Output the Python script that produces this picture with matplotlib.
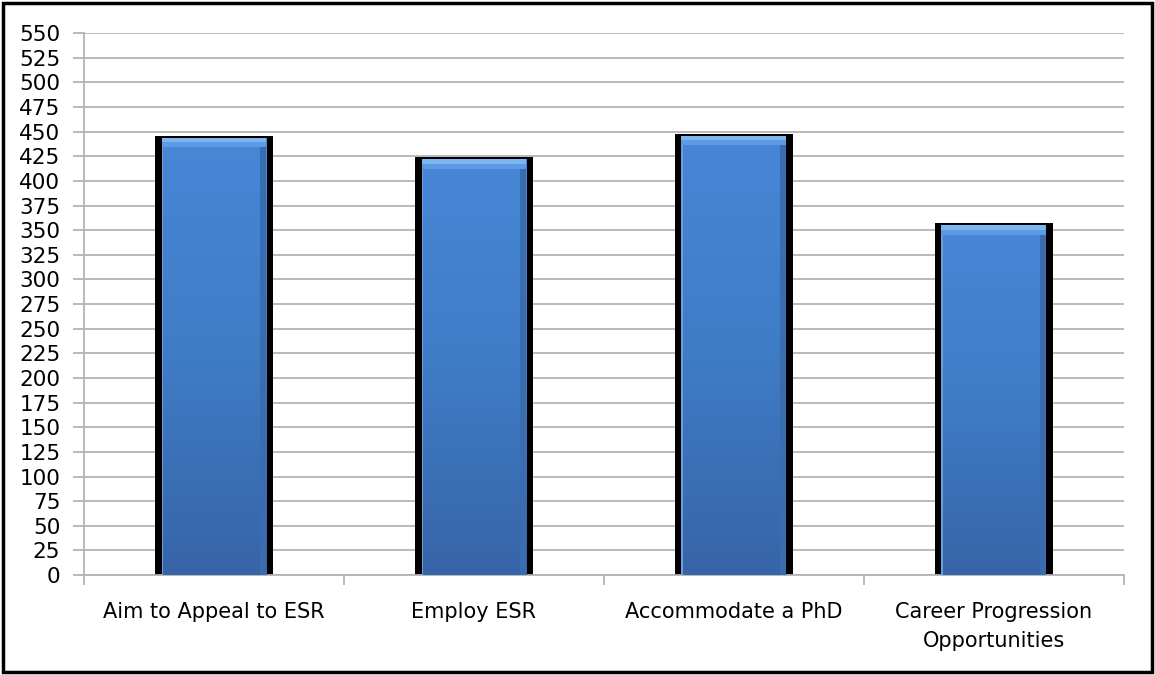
import matplotlib.pyplot as plt
import numpy as np
from matplotlib.patches import Rectangle
from matplotlib.colors import LinearSegmentedColormap

# data
categories = ['Aim to Appeal to ESR', 'Employ ESR', 'Accommodate a PhD',
              'Career Progression\nOpportunities']
values = [444, 422, 446, 355]
y_ticks = list(range(0, 551, 25))

plt.rcParams['font.family'] = ['DejaVu Sans']

fig = plt.figure(figsize=(11.55, 6.75), dpi=100)
ax = fig.add_axes([0.0727, 0.148, 0.9003, 0.803])

# black frame around the whole chart
fig.patches.append(Rectangle((0.003, 0.004), 0.994, 0.992, transform=fig.transFigure,
                             fill=False, edgecolor='black', linewidth=2.5))

pos = np.arange(len(categories))
grid_col = '#b4b4b4'

# dark shadow behind each bar (a touch taller than the bar)
ax.bar(pos, [v + 2 for v in values], 0.453, color='black', zorder=2)
bars = ax.bar(pos, values, 0.403, color='#4a84cf', zorder=3)

# vertical gradient + bevel on each bar
grad = np.linspace(0, 1, 256).reshape(-1, 1)
cmap = LinearSegmentedColormap.from_list('b', ['#3764a8', '#3f7cc6', '#4787d6'])
for b, v in zip(bars, values):
    x0 = b.get_x()
    w = b.get_width()
    im = ax.imshow(grad, extent=(x0, x0 + w, 0, v), origin='lower', cmap=cmap,
                   aspect='auto', zorder=3.5)
    im.set_clip_path(b)
    # lighter bevel band on top
    ax.add_patch(Rectangle((x0, v - 10), w, 10, color='#5d9be4', zorder=4, lw=0))
    ax.add_patch(Rectangle((x0, v - 5), w, 5, color='#7db5f0', zorder=4, lw=0))
    # side edges: light on the left, darker on the right
    ax.add_patch(Rectangle((x0, 0), 0.006, v - 10, color='#6a9fdc', zorder=4, lw=0))
    ax.add_patch(Rectangle((x0 + w - 0.025, 0), 0.025, v - 10, color='#3a6cb0', zorder=4, lw=0))

ax.set_xlim(-0.5, len(categories) - 0.5)
ax.set_ylim(0, 550)
ax.set_yticks(y_ticks)
ax.set_xticks(pos)
ax.set_xticklabels(categories, fontsize=15, linespacing=1.55)
ax.set_xticks(np.arange(-0.5, len(categories), 1), minor=True)
ax.tick_params(axis='x', which='major', length=0, pad=19.5)
ax.tick_params(axis='x', which='minor', length=7, color=grid_col, width=1.3)
ax.tick_params(axis='y', length=8, color=grid_col, width=1.3, labelsize=15.5, pad=9)

ax.yaxis.grid(True, color=grid_col, linewidth=1.3, zorder=0)
ax.set_axisbelow(True)
for s in ['top', 'right']:
    ax.spines[s].set_visible(False)
for s in ['left', 'bottom']:
    ax.spines[s].set_color(grid_col)
    ax.spines[s].set_linewidth(1.3)

fig.savefig('out.png', dpi=100)
